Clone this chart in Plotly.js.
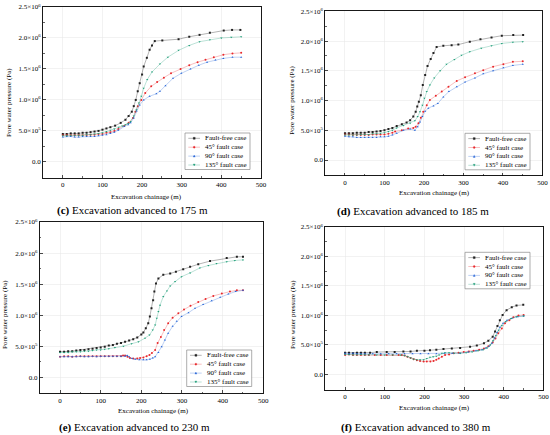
<!DOCTYPE html>
<html><head><meta charset="utf-8">
<script src="https://cdn.plot.ly/plotly-3.0.1.min.js"></script>
<style>html,body{margin:0;padding:0;background:#fff}#chart{width:550px;height:435px}</style>
</head><body><div id="chart"></div>
<script>
// Series names and tick labels
const seriesNames = ["Fault-free case", "45° fault case", "90° fault case", "135° fault case"];
const seriesColors = ["#222222", "#e8282b", "#2463d6", "#1f9e78"];
const lineColors = ["rgba(0,0,0,0.5)", "rgba(232,40,43,0.5)", "rgba(36,99,214,0.5)", "rgba(31,158,120,0.5)"];
const seriesSymbols = ["square", "circle", "triangle-up", "triangle-down"];
const panelCaptions = ["(c)", "(d)", "(e)", "(f)"];
const panelTexts = [" Excavation advanced to 175 m", " Excavation advanced to 185 m", " Excavation advanced to 230 m", " Excavation advanced to 380 m"];
const xTicks = [0, 100, 200, 300, 400, 500];
const yTickVals = [0, 0.5e6, 1.0e6, 1.5e6, 2.0e6, 2.5e6];
const yTickText = ["0.0", "5.0×10<sup>5</sup>", "1.0×10<sup>6</sup>", "1.5×10<sup>6</sup>", "2.0×10<sup>6</sup>", "2.5×10<sup>6</sup>"];
const xTitle = "Excavation chainage (m)";
const yTitle = "Pore water pressure (Pa)";

// Panel (c): excavation to 175 m  (values in 10^6 Pa)
const xc_ff = [0,10,20,30,40,50,60,70,80,90,100,110,120,132,146,158,166,174,179,184,189,194,200,204,212,219,225,232,251,292,319,345,371,406,427,448];
const yc_ff = [0.45,0.45,0.46,0.46,0.46,0.47,0.47,0.48,0.49,0.50,0.52,0.54,0.56,0.585,0.63,0.68,0.74,0.81,0.90,1.00,1.14,1.27,1.41,1.54,1.68,1.81,1.88,1.95,1.96,1.98,2.02,2.05,2.085,2.12,2.13,2.13];
const xc_45 = [0,10,20,30,40,50,60,70,80,90,100,110,120,130,140,155,166,177,183,189,198,208,223,238,255,273,297,319,340,360,381,405,428,450];
const yc_45 = [0.43,0.43,0.43,0.43,0.43,0.43,0.43,0.44,0.44,0.45,0.45,0.47,0.48,0.50,0.53,0.58,0.63,0.71,0.81,0.90,1.00,1.11,1.22,1.29,1.36,1.43,1.50,1.56,1.61,1.65,1.69,1.73,1.75,1.76];
const xc_90 = [0,10,20,30,40,50,60,70,80,90,100,110,120,130,140,155,165,171,179,186,194,204,219,236,245,259,278,299,322,343,364,385,405,428,450];
const yc_90 = [0.40,0.41,0.41,0.40,0.40,0.41,0.41,0.41,0.41,0.42,0.43,0.44,0.46,0.48,0.51,0.57,0.60,0.63,0.71,0.82,0.92,1.00,1.06,1.10,1.14,1.23,1.35,1.43,1.50,1.56,1.61,1.645,1.67,1.69,1.69];
const xc_135 = [0,10,20,30,40,50,60,70,80,90,100,110,120,130,141,150,158,165,171,179,186,192,198,204,213,225,245,265,292,319,345,371,400,425,450];
const yc_135 = [0.42,0.42,0.43,0.43,0.43,0.43,0.44,0.44,0.45,0.46,0.47,0.49,0.51,0.53,0.56,0.58,0.60,0.62,0.65,0.74,0.84,0.95,1.06,1.19,1.33,1.45,1.58,1.69,1.80,1.88,1.94,1.97,2.00,2.01,2.02];

// Panel (d): excavation to 185 m
const xd_ff = [0,10,20,30,40,50,60,70,80,90,100,110,120,131,144,156,165,173,179,183,187,192,197,203,209,217,224,232,249,270,287,316,343,371,397,426,451];
const yd_ff = [0.45,0.45,0.45,0.46,0.46,0.46,0.47,0.47,0.48,0.49,0.50,0.52,0.54,0.57,0.60,0.63,0.67,0.73,0.81,0.90,0.98,1.09,1.26,1.43,1.58,1.70,1.80,1.90,1.92,1.93,1.94,1.99,2.03,2.06,2.09,2.10,2.10];
const xd_45 = [0,10,20,30,40,50,60,70,80,90,100,110,120,127,144,160,173,179,186,192,198,207,215,230,245,262,283,304,329,350,375,401,425,450];
const yd_45 = [0.43,0.43,0.42,0.42,0.42,0.42,0.42,0.43,0.43,0.43,0.43,0.44,0.46,0.48,0.50,0.53,0.54,0.56,0.62,0.71,0.81,0.92,1.01,1.08,1.15,1.23,1.33,1.39,1.46,1.51,1.57,1.61,1.65,1.66];
const xd_90 = [0,10,20,30,40,50,60,70,80,90,100,110,120,131,148,165,177,184,190,196,203,211,224,235,249,263,283,304,329,350,375,401,425,450];
const yd_90 = [0.40,0.39,0.39,0.38,0.38,0.38,0.38,0.38,0.38,0.39,0.39,0.40,0.42,0.45,0.50,0.52,0.50,0.56,0.64,0.73,0.82,0.87,0.91,0.95,1.06,1.15,1.23,1.31,1.38,1.45,1.50,1.55,1.59,1.61];
const xd_135 = [0,10,20,30,40,50,60,70,80,90,100,110,120,131,148,165,177,184,190,196,201,207,215,226,241,257,277,295,316,345,371,397,425,450];
const yd_135 = [0.42,0.42,0.42,0.42,0.43,0.43,0.43,0.44,0.44,0.45,0.46,0.48,0.50,0.54,0.58,0.62,0.66,0.73,0.81,0.92,1.04,1.15,1.26,1.38,1.50,1.61,1.69,1.76,1.82,1.88,1.92,1.96,1.98,1.99];

// Panel (e): excavation to 230 m
const xe_ff = [0,10,20,30,40,50,60,70,80,90,100,110,120,130,140,150,160,170,180,190,200,205,211,217,221,225,229,232,236,242,254,271,285,303,320,340,369,410,435,450];
const ye_ff = [0.41,0.41,0.42,0.42,0.43,0.44,0.44,0.45,0.46,0.47,0.48,0.49,0.51,0.52,0.54,0.55,0.57,0.59,0.61,0.64,0.69,0.72,0.79,0.87,0.98,1.11,1.24,1.38,1.51,1.59,1.65,1.67,1.70,1.74,1.78,1.82,1.87,1.92,1.94,1.94];
const xe_45 = [0,10,20,30,40,50,60,70,80,90,100,110,120,130,140,150,155,160,166,172,180,190,197,205,213,220,226,234,240,248,256,266,277,291,305,321,340,358,377,398,418,435,450];
const ye_45 = [0.33,0.34,0.34,0.33,0.34,0.34,0.34,0.34,0.34,0.34,0.34,0.34,0.34,0.34,0.34,0.34,0.35,0.35,0.33,0.31,0.30,0.30,0.31,0.32,0.34,0.36,0.39,0.44,0.55,0.65,0.76,0.87,0.96,1.03,1.09,1.15,1.21,1.26,1.31,1.35,1.38,1.40,1.40];
const xe_90 = [0,10,20,30,40,50,60,70,80,90,100,110,120,130,140,150,160,165,170,177,185,195,205,213,221,228,234,242,250,258,266,277,287,299,316,332,352,373,394,414,432,450];
const ye_90 = [0.33,0.33,0.33,0.33,0.33,0.34,0.33,0.33,0.34,0.33,0.34,0.34,0.34,0.34,0.34,0.34,0.34,0.35,0.33,0.30,0.29,0.28,0.28,0.28,0.29,0.31,0.33,0.40,0.49,0.60,0.71,0.82,0.90,0.98,1.04,1.11,1.17,1.23,1.29,1.34,1.38,1.40];
const xe_135 = [0,10,20,30,40,50,60,70,80,90,100,110,120,135,156,176,193,209,220,228,234,238,242,246,254,263,271,283,299,320,344,365,385,410,430,450];
const ye_135 = [0.40,0.40,0.40,0.41,0.41,0.41,0.42,0.42,0.43,0.44,0.44,0.45,0.46,0.48,0.50,0.54,0.57,0.63,0.68,0.76,0.84,0.95,1.06,1.16,1.30,1.39,1.47,1.54,1.62,1.68,1.76,1.80,1.83,1.86,1.88,1.89];

// Panel (f): excavation to 380 m
const xf_ff = [0,10,20,30,40,50,63,80,105,125,147,165,181,200,214,230,248,269,290,315,332,350,361,372,378,384,390,397,407,420,432,449];
const yf_ff = [0.37,0.37,0.36,0.37,0.37,0.37,0.37,0.38,0.38,0.38,0.39,0.39,0.40,0.40,0.41,0.42,0.43,0.44,0.45,0.47,0.49,0.53,0.57,0.64,0.73,0.82,0.92,1.01,1.09,1.14,1.17,1.18];
const xf_45 = [0,10,20,30,40,50,60,75,90,105,120,135,143,150,157,165,173,181,189,198,206,215,223,230,236,244,252,262,273,286,299,312,324,338,350,361,372,379,386,395,403,414,424,437,450];
const yf_45 = [0.33,0.34,0.33,0.33,0.33,0.33,0.33,0.33,0.33,0.33,0.33,0.33,0.33,0.32,0.30,0.28,0.26,0.24,0.23,0.22,0.22,0.22,0.23,0.25,0.27,0.30,0.33,0.34,0.36,0.37,0.38,0.39,0.40,0.42,0.44,0.48,0.54,0.61,0.70,0.78,0.87,0.92,0.97,1.00,1.01];
const xf_90 = [0,10,20,30,40,50,70,90,110,130,150,170,190,210,230,250,270,290,310,330,345,355,363,370,377,383,390,398,408,420,435,450];
const yf_90 = [0.36,0.35,0.36,0.35,0.35,0.35,0.35,0.35,0.35,0.35,0.35,0.35,0.35,0.35,0.35,0.36,0.36,0.36,0.38,0.40,0.42,0.45,0.48,0.53,0.62,0.71,0.80,0.87,0.92,0.95,0.98,0.99];
const xf_135 = [0,10,20,30,40,50,60,80,100,120,140,150,158,165,172,180,189,198,206,214,222,230,237,244,252,262,275,290,305,320,335,348,358,366,373,380,387,395,405,418,432,450];
const yf_135 = [0.34,0.34,0.33,0.33,0.34,0.33,0.33,0.33,0.33,0.33,0.33,0.32,0.30,0.28,0.26,0.25,0.25,0.25,0.27,0.29,0.30,0.31,0.33,0.36,0.37,0.37,0.36,0.36,0.37,0.38,0.40,0.42,0.45,0.50,0.57,0.66,0.75,0.83,0.90,0.95,0.98,0.99];

const panels = [
  {xs:[xc_ff,xc_45,xc_90,xc_135], ys:[yc_ff,yc_45,yc_90,yc_135]},
  {xs:[xd_ff,xd_45,xd_90,xd_135], ys:[yd_ff,yd_45,yd_90,yd_135]},
  {xs:[xe_ff,xe_45,xe_90,xe_135], ys:[ye_ff,ye_45,ye_90,ye_135]},
  {xs:[xf_ff,xf_45,xf_90,xf_135], ys:[yf_ff,yf_45,yf_90,yf_135]}
];

// Layout geometry (pixels)
const W = 550, H = 435;
const geo = [
  {l:43, r:261, t:7, b:178, xt:[146,197], yt:[9,103], cap:[132,210], leg:[185,133]},
  {l:325.2, r:542.5, t:11.3, b:175.5, xt:[434,192.7], yt:[291.7,100], cap:[413,211.5], leg:[465,133.3]},
  {l:39.7, r:263.3, t:222, b:393.4, xt:[153,411.3], yt:[5,315], cap:[134,427], leg:[186.7,350]},
  {l:325.2, r:543.5, t:227, b:389.8, xt:[434,408], yt:[292.3,314.7], cap:[416,427], leg:[465,252.3]}
];
const px = v => v / W, py = v => 1 - v / H;
const FONT = "Liberation Serif, Times New Roman, serif";

const traces = [];
const layout = {
  width: W, height: H, autosize: false, margin: {l:0, r:0, t:0, b:0},
  paper_bgcolor: "#fff", plot_bgcolor: "#fff", showlegend: false,
  font: {family: FONT, color: "#000", size: 7},
  annotations: [], shapes: []
};

const yMinor = [-0.25e6, 0.25e6, 0.75e6, 1.25e6, 1.75e6, 2.25e6];

panels.forEach((p, i) => {
  const n = i === 0 ? "" : String(i + 1);
  const g = geo[i];
  p.xs.forEach((xs, k) => {
    traces.push({
      type: "scatter", mode: "lines+markers",
      x: xs, y: p.ys[k].map(v => v * 1e6),
      xaxis: "x" + n, yaxis: "y" + n, name: seriesNames[k],
      line: {color: lineColors[k], width: 0.6},
      marker: {color: seriesColors[k], size: 2, symbol: seriesSymbols[k], line: {width: 0}},
      cliponaxis: true
    });
  });
  layout["xaxis" + n] = {
    domain: [px(g.l), px(g.r)], anchor: "y" + n, range: [-50, 500],
    tickmode: "array", tickvals: xTicks, ticks: "inside", ticklen: 3, tickwidth: 0.7, tickcolor: "#000",
    minor: {tickmode: "array", tickvals: [-50, 50, 150, 250, 350, 450], ticks: "inside", ticklen: 1.6, tickwidth: 0.6, tickcolor: "#000", showgrid: false},
    showline: true, linecolor: "#000", linewidth: 0.9, mirror: true,
    showgrid: true, gridcolor: "#e6e6e6", gridwidth: 0.5, zeroline: false,
    tickfont: {family: FONT, size: 7, color: "#000"}
  };
  layout["yaxis" + n] = {
    domain: [py(g.b), py(g.t)], anchor: "x" + n, range: [-0.26e6, 2.5e6],
    tickmode: "array", tickvals: yTickVals, ticktext: yTickText,
    ticks: "inside", ticklen: 3, tickwidth: 0.7, tickcolor: "#000",
    minor: {tickmode: "array", tickvals: yMinor, ticks: "inside", ticklen: 1.6, tickwidth: 0.6, tickcolor: "#000", showgrid: false},
    showline: true, linecolor: "#000", linewidth: 0.9, mirror: true,
    showgrid: true, gridcolor: "#e6e6e6", gridwidth: 0.5, zeroline: false,
    tickfont: {family: FONT, size: 7, color: "#000"}
  };
  // axis titles
  layout.annotations.push({xref:"paper", yref:"paper", x: px(g.xt[0]), y: py(g.xt[1]), xanchor:"center", yanchor:"middle",
    text: xTitle, showarrow:false, font:{family:FONT, size:7, color:"#000"}});
  layout.annotations.push({xref:"paper", yref:"paper", x: px(g.yt[0]), y: py(g.yt[1]), xanchor:"center", yanchor:"middle",
    text: yTitle, textangle: -90, showarrow:false, font:{family:FONT, size:7, color:"#000"}});
  // caption
  layout.annotations.push({xref:"paper", yref:"paper", x: px(g.cap[0]), y: py(g.cap[1]), xanchor:"center", yanchor:"middle",
    text: "<b>" + panelCaptions[i] + "</b>" + panelTexts[i], showarrow:false, font:{family:FONT, size:11, color:"#000"}});
  // legend box
  const L = g.leg[0], T = g.leg[1], LW = 65, LH = 36.5;
  layout.shapes.push({type:"rect", xref:"paper", yref:"paper", x0:px(L), x1:px(L+LW), y0:py(T+LH), y1:py(T),
    line:{color:"#8a8a8a", width:0.7}, fillcolor:"#fff", layer:"above"});
  seriesNames.forEach((nm, k) => {
    const cy = T + 5.3 + 8.9 * k;
    layout.shapes.push({type:"line", xref:"paper", yref:"paper", x0:px(L+3.3), x1:px(L+15), y0:py(cy), y1:py(cy),
      line:{color:lineColors[k], width:0.6}, layer:"above"});
    const cx = L + 9.2, s = 1.0;
    let shp;
    if (k === 0) shp = {type:"rect", x0:px(cx-s), x1:px(cx+s), y0:py(cy+s), y1:py(cy-s)};
    else if (k === 1) shp = {type:"circle", x0:px(cx-s), x1:px(cx+s), y0:py(cy+s), y1:py(cy-s)};
    else if (k === 2) shp = {type:"path", path:`M ${px(cx-s)} ${py(cy+s)} L ${px(cx+s)} ${py(cy+s)} L ${px(cx)} ${py(cy-s)} Z`};
    else shp = {type:"path", path:`M ${px(cx-s)} ${py(cy-s)} L ${px(cx+s)} ${py(cy-s)} L ${px(cx)} ${py(cy+s)} Z`};
    Object.assign(shp, {xref:"paper", yref:"paper", fillcolor:seriesColors[k], line:{color:seriesColors[k], width:0.3}, layer:"above"});
    layout.shapes.push(shp);
    layout.annotations.push({xref:"paper", yref:"paper", x:px(L+19), y:py(cy), xanchor:"left", yanchor:"middle",
      text:nm, showarrow:false, borderpad:0, font:{family:FONT, size:7, color:"#000"}});
  });
});

Plotly.newPlot("chart", traces, layout, {staticPlot: true, displayModeBar: false});
</script>
</body></html>
